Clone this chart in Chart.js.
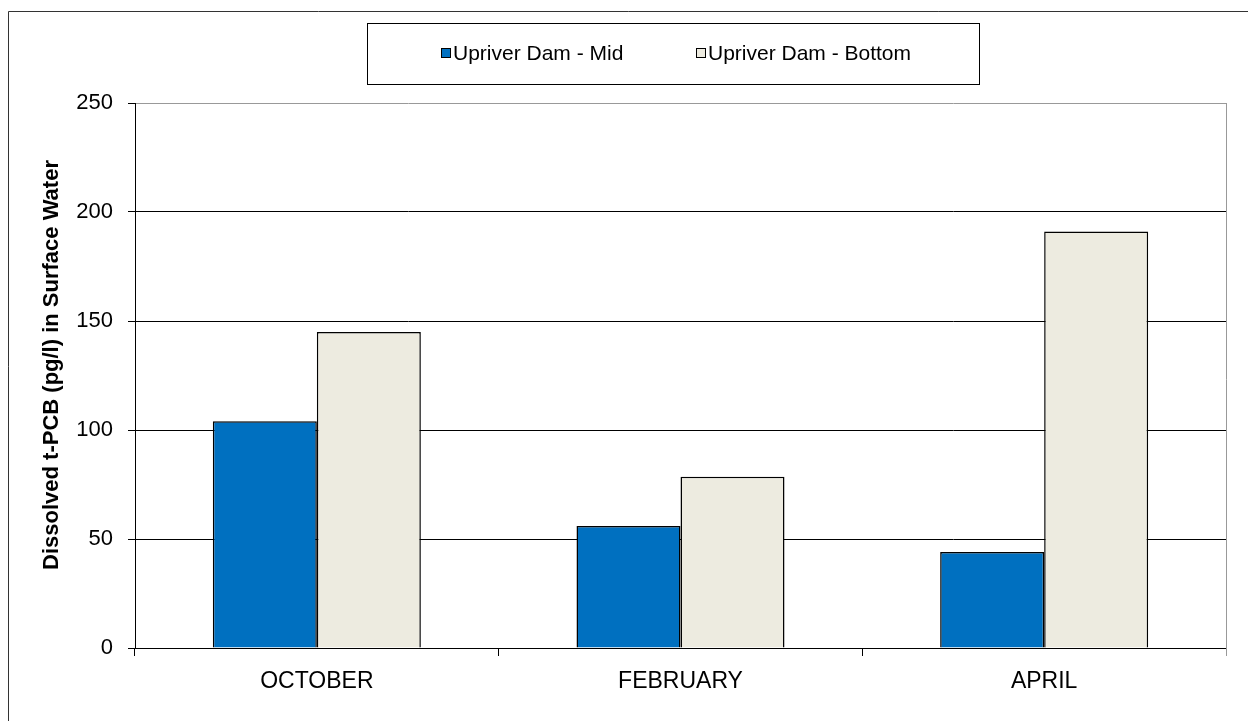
<!DOCTYPE html>
<html lang="en">
<head>
    <meta charset="UTF-8">
    <title>Dissolved t-PCB in Surface Water</title>
    <script src="https://cdn.jsdelivr.net/npm/chart.js"></script>
    <style>
        body, html {
            margin: 0;
            padding: 0;
            background-color: #fff;
        }
        #wrap {
            width: 1248px;
            height: 721px;
        }
    </style>
</head>
<body>
    <div id="wrap">
        <canvas id="pcbChart" width="1248" height="721"></canvas>
    </div>

    <script>
        // data
        const months = ['OCTOBER', 'FEBRUARY', 'APRIL'];
        const midValues = [104, 56, 44];
        const bottomValues = [145, 78.5, 191];
        const seriesNames = ['Upriver Dam - Mid', 'Upriver Dam - Bottom'];
        const yTicks = [0, 50, 100, 150, 200, 250];
        const yTitle = 'Dissolved t-PCB (pg/l) in Surface Water';

        const FONT = "'Liberation Sans', Arial, sans-serif";
        const blue = '#0070C0';
        const beige = '#EDEBE0';

        // outer frame, right plot border, y title and the boxed legend
        const decorations = {
            id: 'decorations',
            afterDraw(chart) {
                const ctx = chart.ctx;
                const area = chart.chartArea;
                ctx.save();

                // frame around the whole chart (only left and top are visible)
                ctx.strokeStyle = '#333';
                ctx.lineWidth = 1;
                ctx.beginPath();
                ctx.moveTo(8.5, 721);
                ctx.lineTo(8.5, 11.5);
                ctx.lineTo(1248, 11.5);
                ctx.stroke();

                // grey right edge of the plot area
                ctx.strokeStyle = '#999';
                ctx.beginPath();
                ctx.moveTo(Math.round(area.right) + 0.5, area.top);
                ctx.lineTo(Math.round(area.right) + 0.5, area.bottom + 8);
                ctx.stroke();

                // rotated axis title
                ctx.save();
                ctx.translate(52, 365);
                ctx.rotate(-Math.PI / 2);
                ctx.font = 'bold 22px ' + FONT;
                ctx.textAlign = 'center';
                ctx.textBaseline = 'middle';
                ctx.fillStyle = '#000';
                ctx.fillText(yTitle, 0, 0);
                ctx.restore();

                // legend box
                ctx.strokeStyle = '#000';
                ctx.strokeRect(367.5, 23.5, 612, 61);
                const items = chart.data.datasets;
                const startX = [441, 696];
                ctx.font = '21px ' + FONT;
                ctx.textBaseline = 'middle';
                items.forEach((ds, i) => {
                    ctx.fillStyle = ds.backgroundColor;
                    ctx.fillRect(startX[i] + 0.5, 48.5, 9, 9);
                    ctx.strokeStyle = '#000';
                    ctx.strokeRect(startX[i] + 0.5, 48.5, 9, 9);
                    ctx.fillStyle = '#000';
                    ctx.fillText(ds.label, startX[i] + 12, 54);
                });
                ctx.restore();
            }
        };

        const ctx = document.getElementById('pcbChart').getContext('2d');
        new Chart(ctx, {
            type: 'bar',
            data: {
                labels: months,
                datasets: [{
                    label: seriesNames[0],
                    data: midValues,
                    backgroundColor: blue,
                    borderColor: '#000',
                    borderWidth: 1.5
                }, {
                    label: seriesNames[1],
                    data: bottomValues,
                    backgroundColor: beige,
                    borderColor: '#000',
                    borderWidth: 1.5
                }]
            },
            options: {
                responsive: false,
                animation: false,
                devicePixelRatio: 1,
                layout: {
                    padding: { left: 0, right: 22, top: 103, bottom: 0 }
                },
                datasets: {
                    bar: {
                        categoryPercentage: 0.572,
                        barPercentage: 1
                    }
                },
                plugins: {
                    legend: { display: false },
                    tooltip: { enabled: false }
                },
                scales: {
                    x: {
                        afterFit(scale) { scale.height = 73; },
                        grid: {
                            offset: true,
                            drawOnChartArea: false,
                            drawTicks: true,
                            tickLength: 8,
                            color: '#000'
                        },
                        border: { color: '#000', width: 1 },
                        ticks: {
                            color: '#000',
                            padding: 12,
                            font: { family: FONT, size: 23 }
                        }
                    },
                    y: {
                        min: 0,
                        max: 250,
                        afterFit(scale) { scale.width = 135; },
                        afterBuildTicks(scale) {
                            scale.ticks = yTicks.map(v => ({ value: v }));
                        },
                        grid: {
                            color: (c) => (c.tick && c.tick.value === 250 ? '#999' : '#000'),
                            tickColor: '#000',
                            tickLength: 7
                        },
                        border: { color: '#000', width: 1 },
                        ticks: {
                            color: '#000',
                            padding: 15,
                            font: { family: FONT, size: 22 }
                        }
                    }
                }
            },
            plugins: [decorations]
        });
    </script>
</body>
</html>
